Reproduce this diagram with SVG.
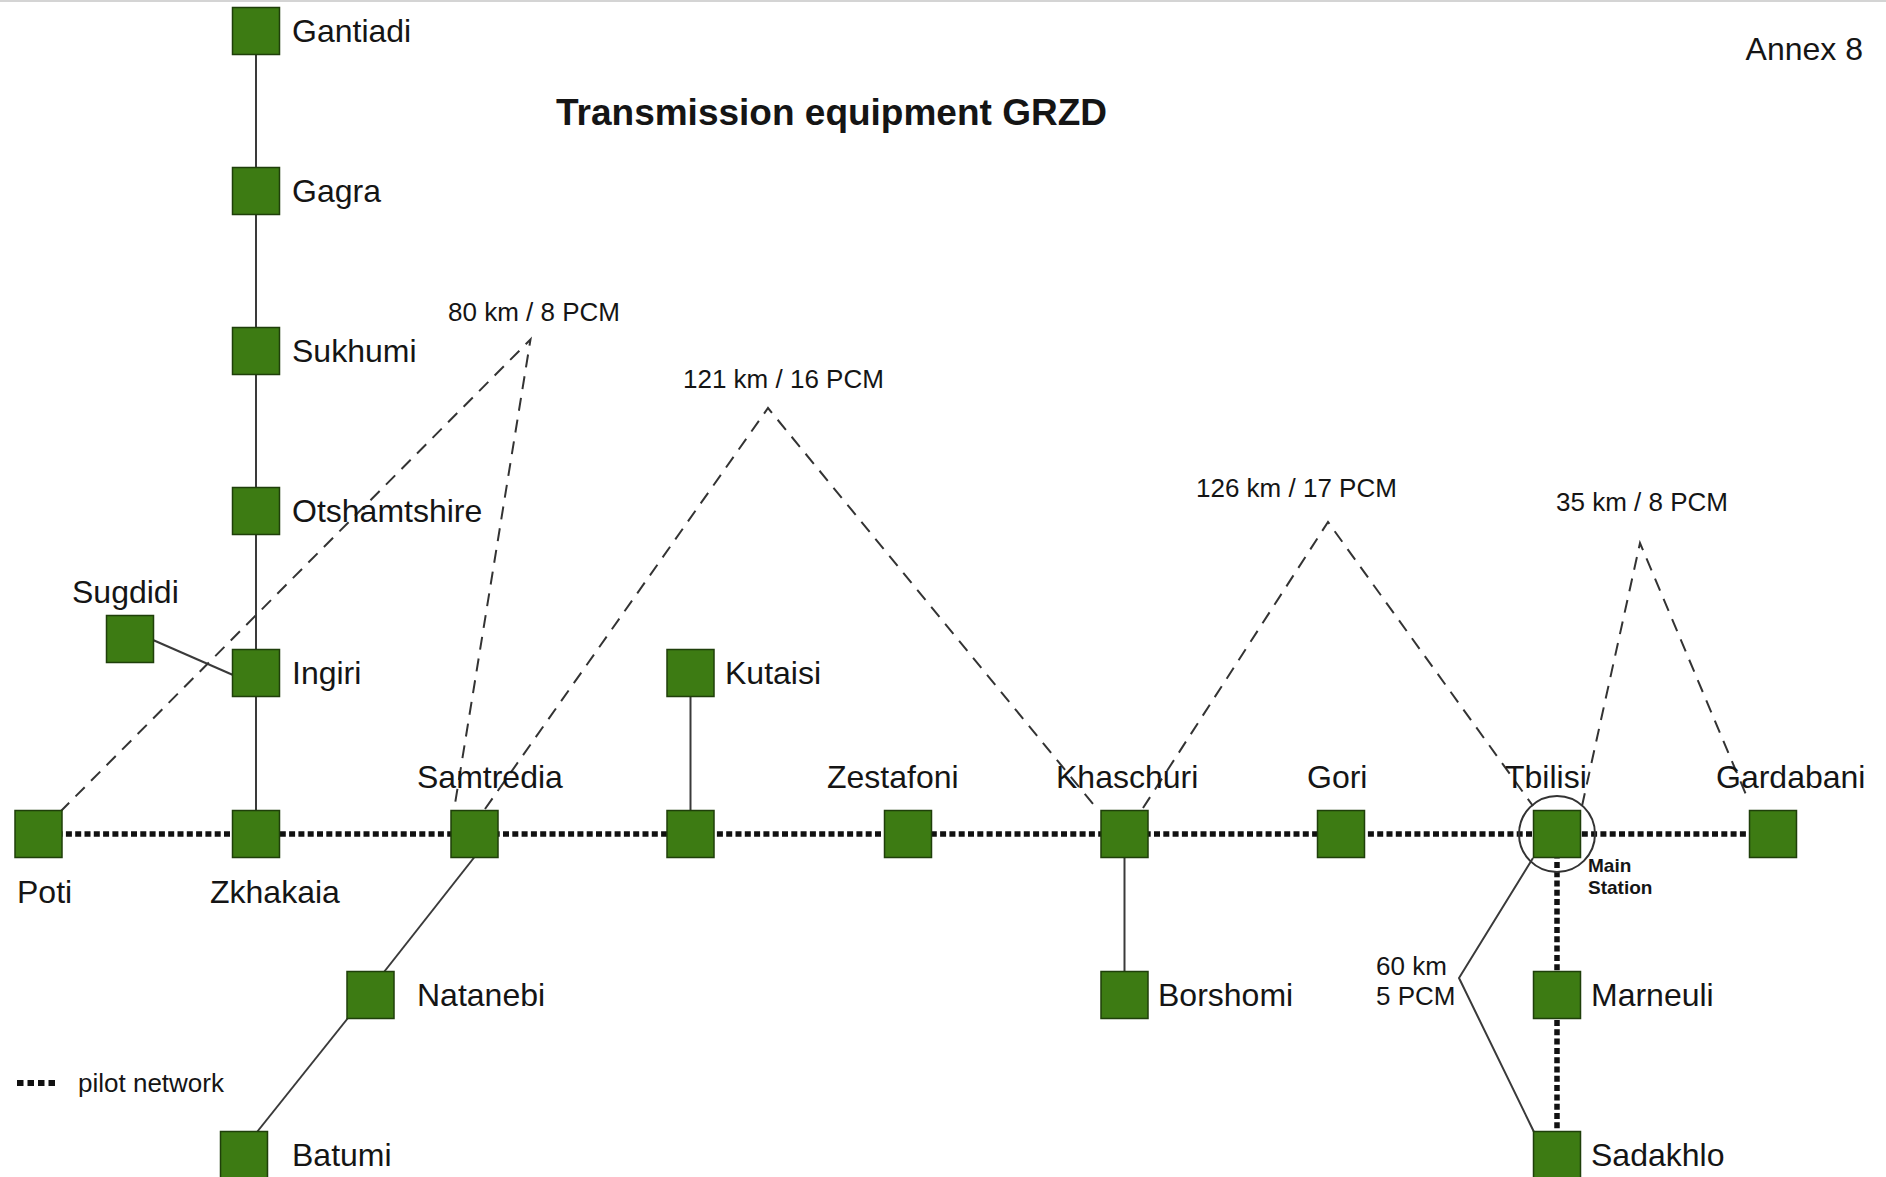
<svg xmlns="http://www.w3.org/2000/svg" width="1886" height="1177" viewBox="0 0 1886 1177">
  <defs>
    <style>
      text { font-family: "Liberation Sans", Arial, Helvetica, sans-serif; fill: #151515; }
      .lbl { font-size: 32px; }
      .dist { font-size: 26px; }
      .title { font-size: 37px; font-weight: bold; }
      .small { font-size: 19px; font-weight: bold; }
      .box { fill: #3d7b13; stroke: #1f3f0a; stroke-width: 1.5; }
      .solid { fill: none; stroke: #3a3a3a; stroke-width: 2; }
      .dash { fill: none; stroke: #333; stroke-width: 2; stroke-dasharray: 13 9; }
      .pilot { fill: none; stroke: #111; stroke-width: 5.5; stroke-dasharray: 6 3.3; }
      .ring { fill: none; stroke: #333; stroke-width: 2; }
    </style>
  </defs>

  <rect x="0" y="0" width="1886" height="1177" fill="#ffffff"/>
  <line x1="0" y1="1" x2="1886" y2="1" stroke="#d4d4d4" stroke-width="2"/>

  <!-- Headings -->
  <text class="title" x="556" y="125">Transmission equipment GRZD</text>
  <text class="lbl" x="1863" y="60" text-anchor="end">Annex 8</text>

  <!-- Links between stations -->
  <g id="connectors">
    <!-- copper / radio links -->
    <path class="solid" d="M256 31 V834"/>
    <path class="solid" d="M153 640 L233 675"/>
    <path class="solid" d="M474.5 857 L384 972"/>
    <path class="solid" d="M348 1018 L257 1132"/>
    <path class="solid" d="M690.5 673 V834"/>
    <path class="solid" d="M1124.5 834 V995"/>
    <path class="solid" d="M1533 858 L1459 978 L1534 1132"/>
    <!-- fibre spans -->
    <path class="dash" d="M60 812 L530.5 339.5 L454 810"/>
    <path class="dash" d="M485 809 L768 408 L1098 810"/>
    <path class="dash" d="M1143 808 L1328 522 L1533 806"/>
    <path class="dash" d="M1582 806 L1640 543 L1747 797"/>
    <!-- pilot network -->
    <path class="pilot" d="M38 834 H1773"/>
    <path class="pilot" d="M1557 834 V1155"/>
  </g>

  <!-- Stations -->
  <g id="gantiadi"><rect class="box" x="232.5" y="7.5" width="47" height="47"/><text class="lbl" x="292" y="42">Gantiadi</text></g>
  <g id="gagra"><rect class="box" x="232.5" y="167.5" width="47" height="47"/><text class="lbl" x="292" y="202">Gagra</text></g>
  <g id="sukhumi"><rect class="box" x="232.5" y="327.5" width="47" height="47"/><text class="lbl" x="292" y="362">Sukhumi</text></g>
  <g id="otshamtshire"><rect class="box" x="232.5" y="487.5" width="47" height="47"/><text class="lbl" x="292" y="522">Otshamtshire</text></g>
  <g id="ingiri"><rect class="box" x="232.5" y="649.5" width="47" height="47"/><text class="lbl" x="292" y="684">Ingiri</text></g>
  <g id="sugdidi"><rect class="box" x="106.5" y="615.5" width="47" height="47"/><text class="lbl" x="72" y="603">Sugdidi</text></g>
  <g id="poti"><rect class="box" x="15" y="810.5" width="47" height="47"/><text class="lbl" x="17" y="903">Poti</text></g>
  <g id="zkhakaia"><rect class="box" x="232.5" y="810.5" width="47" height="47"/><text class="lbl" x="210" y="903">Zkhakaia</text></g>
  <g id="samtredia"><rect class="box" x="451" y="810.5" width="47" height="47"/><text class="lbl" x="417" y="788">Samtredia</text></g>
  <g id="natanebi"><rect class="box" x="347" y="971.5" width="47" height="47"/><text class="lbl" x="417" y="1006">Natanebi</text></g>
  <g id="batumi"><rect class="box" x="220.5" y="1131.5" width="47" height="47"/><text class="lbl" x="292" y="1166">Batumi</text></g>
  <g id="kutaisi"><rect class="box" x="667" y="649.5" width="47" height="47"/><text class="lbl" x="725" y="684">Kutaisi</text></g>
  <g id="kutaisi-junction"><rect class="box" x="667" y="810.5" width="47" height="47"/></g>
  <g id="zestafoni"><rect class="box" x="884.5" y="810.5" width="47" height="47"/><text class="lbl" x="827" y="788">Zestafoni</text></g>
  <g id="khaschuri"><rect class="box" x="1101" y="810.5" width="47" height="47"/><text class="lbl" x="1056" y="788">Khaschuri</text></g>
  <g id="borshomi"><rect class="box" x="1101" y="971.5" width="47" height="47"/><text class="lbl" x="1158" y="1006">Borshomi</text></g>
  <g id="gori"><rect class="box" x="1317.5" y="810.5" width="47" height="47"/><text class="lbl" x="1307" y="788">Gori</text></g>
  <g id="tbilisi">
    <rect class="box" x="1533.5" y="810.5" width="47" height="47"/>
    <circle class="ring" cx="1557" cy="834" r="38"/>
    <text class="lbl" x="1505" y="788">Tbilisi</text>
    <text class="small" x="1588" y="872">Main</text>
    <text class="small" x="1588" y="894">Station</text>
  </g>
  <g id="marneuli"><rect class="box" x="1533.5" y="971.5" width="47" height="47"/><text class="lbl" x="1591" y="1006">Marneuli</text></g>
  <g id="sadakhlo"><rect class="box" x="1533.5" y="1131.5" width="47" height="47"/><text class="lbl" x="1591" y="1166">Sadakhlo</text></g>
  <g id="gardabani"><rect class="box" x="1749.5" y="810.5" width="47" height="47"/><text class="lbl" x="1716" y="788">Gardabani</text></g>

  <!-- Span labels -->
  <g id="span-labels">
    <text class="dist" x="448" y="321">80 km / 8 PCM</text>
    <text class="dist" x="683" y="388">121 km / 16 PCM</text>
    <text class="dist" x="1196" y="497">126 km / 17 PCM</text>
    <text class="dist" x="1556" y="511">35 km / 8 PCM</text>
    <text class="dist" x="1376" y="975">60 km</text>
    <text class="dist" x="1376" y="1005">5 PCM</text>
  </g>

  <!-- Legend -->
  <g id="legend">
    <path d="M17 1083 H55" fill="none" stroke="#111" stroke-width="6" stroke-dasharray="6.5 4"/>
    <text class="dist" x="78" y="1092">pilot network</text>
  </g>
</svg>
